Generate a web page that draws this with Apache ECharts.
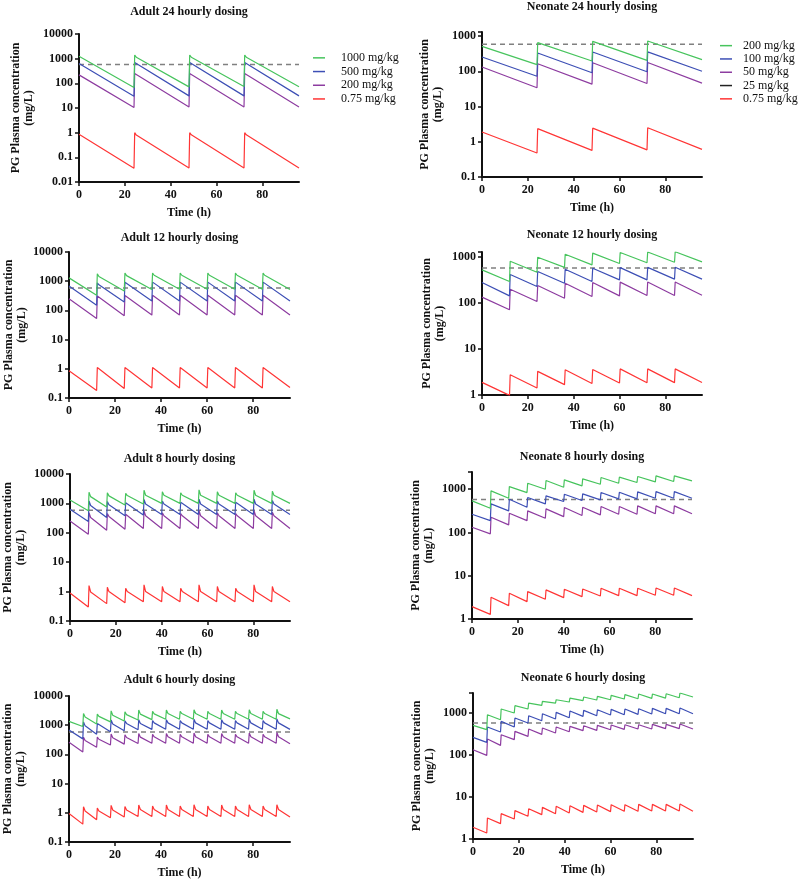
<!DOCTYPE html>
<html>
<head>
<meta charset="utf-8">
<script src="https://cdn.jsdelivr.net/npm/echarts@6/dist/echarts.min.js"></script>
<style>
  html, body { margin: 0; padding: 0; background: #fff; }
  #main { width: 800px; height: 884px; }
</style>
</head>
<body>
<div id="main"></div>
<script>
// doses in the legends
const adultDoses = ['1000 mg/kg', '500 mg/kg', '200 mg/kg', '0.75 mg/kg'];
const neonateDoses = ['200 mg/kg', '100 mg/kg', '50 mg/kg', '25 mg/kg', '0.75 mg/kg'];
const xTicks = [0, 20, 40, 60, 80];
const threshold = [580];

// peak = level after each dose (first one at t=0), spike = short top right after dose, trough = level before next dose
// order: 1000, 500, 200, 0.75 mg/kg
const adult24Peak = [[1250, 1150, 1150, 1150], [640, 590, 600, 600], [220, 210, 215, 215], [0.86, 0.8, 0.82, 0.82]];
const adult24Spike = [[1400, 1400, 1400], [700, 700, 700], [250, 250, 250], [1.0, 1.0, 1.0]];
const adult24Trough = [[68, 72, 74, 73], [30, 31, 31, 31], [10.5, 11, 11, 11], [0.036, 0.037, 0.037, 0.037]];

const adult12Peak = [
  [1300, 1450, 1550, 1600, 1600, 1600, 1600, 1600],
  [680, 750, 790, 800, 800, 800, 800, 800],
  [250, 270, 285, 290, 290, 290, 290, 290],
  [0.85, 0.95, 0.97, 0.98, 0.98, 0.98, 0.98, 0.98]];
const adult12Spike = [
  [1800, 1900, 1900, 1900, 1900, 1900, 1900],
  [880, 920, 930, 930, 930, 930, 930],
  [310, 325, 330, 330, 330, 330, 330],
  [1.1, 1.1, 1.1, 1.1, 1.1, 1.1, 1.1]];
const adult12Trough = [
  [330, 460, 520, 530, 530, 530, 530, 520],
  [150, 195, 210, 210, 210, 210, 210, 210],
  [53, 66, 69, 70, 70, 70, 70, 70],
  [0.18, 0.21, 0.22, 0.22, 0.22, 0.22, 0.22, 0.23]];

const adult8Peak = [
  [1300, 1700, 1800, 1850, 1900, 1900, 1900, 1900, 1900, 1900, 1900, 1900],
  [630, 850, 900, 930, 950, 950, 950, 950, 950, 950, 950, 950],
  [250, 330, 360, 370, 380, 380, 380, 380, 380, 380, 380, 380],
  [0.9, 0.97, 1.0, 1.0, 1.0, 1.0, 1.0, 1.0, 1.0, 1.0, 1.0, 1.0]];
const adult8Spike = [
  [2400, 2300, 2200, 2800, 2500, 2300, 2900, 2500, 2300, 2800, 2600],
  [1200, 1150, 1050, 1350, 1200, 1100, 1400, 1200, 1100, 1400, 1250],
  [480, 450, 430, 550, 480, 450, 570, 480, 450, 570, 500],
  [1.6, 1.4, 1.3, 1.7, 1.5, 1.3, 1.7, 1.5, 1.3, 1.7, 1.5]];
const adult8Trough = [
  [560, 750, 880, 950, 1000, 1000, 1000, 1000, 1000, 1000, 1000, 1000],
  [240, 330, 380, 400, 420, 420, 420, 420, 420, 420, 420, 420],
  [90, 123, 133, 140, 140, 140, 140, 140, 140, 140, 140, 140],
  [0.30, 0.39, 0.42, 0.45, 0.45, 0.45, 0.45, 0.45, 0.45, 0.45, 0.45, 0.45]];

const adult6Peak = [
  [1350, 1900, 2000, 2200, 2300, 2400, 2450, 2500, 2500, 2500, 2500, 2500, 2500, 2500, 2500, 2500],
  [680, 950, 1000, 1100, 1150, 1150, 1200, 1200, 1200, 1200, 1200, 1200, 1200, 1200, 1200, 1200],
  [260, 300, 330, 370, 380, 390, 400, 400, 400, 400, 400, 400, 400, 400, 400, 400],
  [0.95, 1.15, 1.15, 1.25, 1.25, 1.3, 1.3, 1.3, 1.3, 1.3, 1.3, 1.3, 1.3, 1.3, 1.3, 1.3]];
const adult6Spike = [
  [2500, 2400, 3100, 2900, 3300, 3000, 3300, 3000, 3400, 3000, 3300, 3000, 3400, 3000, 3500],
  [1300, 1150, 1500, 1400, 1550, 1450, 1550, 1450, 1600, 1450, 1550, 1450, 1600, 1450, 1650],
  [390, 390, 500, 470, 520, 490, 520, 490, 540, 490, 520, 490, 540, 490, 560],
  [1.6, 1.45, 1.8, 1.65, 1.85, 1.7, 1.85, 1.7, 1.9, 1.7, 1.85, 1.7, 1.9, 1.7, 1.9]];
const adult6Trough = [
  [900, 1100, 1300, 1400, 1500, 1550, 1600, 1600, 1600, 1600, 1600, 1600, 1600, 1600, 1600, 1650],
  [340, 490, 600, 650, 700, 720, 730, 730, 730, 730, 730, 730, 730, 730, 730, 720],
  [120, 175, 210, 225, 235, 240, 240, 240, 240, 240, 240, 240, 240, 240, 240, 230],
  [0.41, 0.58, 0.68, 0.72, 0.75, 0.75, 0.75, 0.75, 0.75, 0.75, 0.75, 0.75, 0.75, 0.75, 0.75, 0.72]];

// order: 200, 100, 50, 25 (not drawn), 0.75 mg/kg
const neonate24Peak = [[510, 647, 706, 722], [254, 330, 352, 355], [132, 164, 175, 177], null, [1.89, 2.35, 2.43, 2.5]];
const neonate24Trough = [[154, 195, 204, 213], [72, 91, 97, 100], [34, 43, 45, 46], null, [0.48, 0.57, 0.59, 0.61]];

const neonate12Peak = [
  [530, 820, 1000, 1160, 1230, 1270, 1300, 1320],
  [281, 420, 488, 548, 576, 595, 600, 606],
  [135, 201, 242, 272, 282, 287, 288, 288],
  null,
  [1.88, 2.77, 3.27, 3.56, 3.6, 3.7, 3.7, 3.7]];
const neonate12Trough = [
  [296, 470, 600, 680, 730, 760, 780, 790],
  [144, 230, 272, 296, 321, 321, 333, 333],
  [72, 109, 128, 140, 144, 147, 147, 149],
  null,
  [0.98, 1.42, 1.68, 1.78, 1.82, 1.84, 1.86, 1.87]];

const neonate8Peak = [
  [537, 915, 1152, 1377, 1587, 1644, 1734, 1862, 1896, 1965, 2033, 2033],
  [264, 458, 587, 642, 701, 766, 780, 837, 852, 868, 880, 880],
  [132, 225, 279, 316, 351, 377, 384, 397, 400, 412, 412, 412],
  null,
  [1.93, 3.18, 3.93, 4.29, 4.70, 4.87, 4.95, 5.13, 5.13, 5.13, 5.22, 5.22]];
const neonate8Trough = [
  [363, 619, 837, 1000, 1112, 1194, 1305, 1377, 1426, 1478, 1505, 1560],
  [188, 316, 383, 458, 519, 547, 567, 598, 598, 619, 619, 619],
  [93, 150, 188, 213, 233, 246, 255, 264, 264, 270, 270, 270],
  null,
  [1.28, 2.04, 2.52, 2.86, 3.12, 3.29, 3.41, 3.47, 3.47, 3.53, 3.53, 3.47]];

const neonate6Peak = [
  [508, 913, 1245, 1496, 1730, 1896, 2075, 2274, 2404, 2493, 2636, 2734, 2834, 2834, 2884, 2992],
  [263, 464, 634, 760, 864, 964, 1037, 1116, 1157, 1200, 1222, 1245, 1268, 1291, 1291, 1315],
  [134, 240, 305, 366, 416, 440, 464, 482, 499, 508, 518, 527, 527, 537, 537, 547],
  null,
  [1.9, 3.16, 4.01, 4.73, 5.27, 5.67, 6.0, 6.2, 6.33, 6.45, 6.57, 6.57, 6.69, 6.69, 6.69, 6.81]];
const neonate6Trough = [
  [401, 694, 1000, 1245, 1524, 1730, 1828, 1967, 2042, 2075, 2154, 2193, 2234, 2274, 2317, 2404],
  [200, 353, 464, 578, 657, 719, 774, 833, 864, 896, 913, 929, 946, 964, 964, 964],
  [98, 170, 232, 278, 310, 334, 359, 380, 387, 401, 408, 416, 416, 424, 424, 416],
  null,
  [1.39, 2.32, 2.99, 3.47, 3.80, 4.01, 4.16, 4.31, 4.39, 4.48, 4.56, 4.56, 4.64, 4.64, 4.64, 4.56]];

const adultColors = ['#47c45d', '#3d4fb5', '#8d3ca0', '#ff3535'];
const neonateColors = ['#47c45d', '#3d4fb5', '#8d3ca0', '#222222', '#ff3535'];
const FONT = 'Liberation Serif';

const panels = [
  { title: 'Adult 24 hourly dosing', kind: 'A', tau: 24, peak: adult24Peak, spike: adult24Spike, trough: adult24Trough,
    min: 0.01, max: 10000, grid: { left: 79, top: 34, width: 220, height: 148 }, titleY: 12, nameGap: 44 },
  { title: 'Neonate 24 hourly dosing', kind: 'N', tau: 24, peak: neonate24Peak, trough: neonate24Trough,
    min: 0.1, max: 1300, grid: { left: 482, top: 32, width: 220, height: 145 }, titleY: 7, nameGap: 38 },
  { title: 'Adult 12 hourly dosing', kind: 'A', tau: 12, peak: adult12Peak, spike: adult12Spike, trough: adult12Trough,
    min: 0.1, max: 10000, grid: { left: 69, top: 252, width: 221, height: 146 }, titleY: 238, nameGap: 41 },
  { title: 'Neonate 12 hourly dosing', kind: 'N', tau: 12, peak: neonate12Peak, trough: neonate12Trough,
    min: 1, max: 1300, grid: { left: 482, top: 252, width: 220, height: 143 }, titleY: 235, nameGap: 36 },
  { title: 'Adult 8 hourly dosing', kind: 'A', tau: 8, peak: adult8Peak, spike: adult8Spike, trough: adult8Trough,
    min: 0.1, max: 10000, grid: { left: 69, top: 474, width: 221, height: 147 }, titleY: 459, nameGap: 43 },
  { title: 'Neonate 8 hourly dosing', kind: 'N', tau: 8, peak: neonate8Peak, trough: neonate8Trough,
    min: 1, max: 2500, grid: { left: 472, top: 472, width: 220, height: 147 }, titleY: 457, nameGap: 37 },
  { title: 'Adult 6 hourly dosing', kind: 'A', tau: 6, peak: adult6Peak, spike: adult6Spike, trough: adult6Trough,
    min: 0.1, max: 10000, grid: { left: 69, top: 696, width: 221, height: 146 }, titleY: 680, nameGap: 42 },
  { title: 'Neonate 6 hourly dosing', kind: 'N', tau: 6, peak: neonate6Peak, trough: neonate6Trough,
    min: 1, max: 3000, grid: { left: 473, top: 693, width: 220, height: 146 }, titleY: 678, nameGap: 37 }
];

// sawtooth through peak/trough values (straight on log axis)
function buildCurve(tau, peaks, troughs, spikes) {
  const pts = [];
  for (let i = 0; i < peaks.length; i++) {
    const t0 = i * tau;
    if (i === 0) {
      pts.push([0, peaks[0]]);
    } else if (spikes) {
      pts.push([t0 + 0.3, spikes[i - 1]]);
      pts.push([t0 + 1, peaks[i]]);
    } else {
      pts.push([t0 + 0.3, peaks[i]]);
    }
    pts.push([t0 + tau, troughs[i]]);
  }
  return pts;
}

const axisLineStyle = { color: '#111', width: 2 };
const grids = [], xAxes = [], yAxes = [], series = [], graphics = [];

panels.forEach((p, k) => {
  grids.push(p.grid);
  xAxes.push({
    type: 'value', gridIndex: k, min: 0, max: 96,
    name: 'Time (h)', nameLocation: 'middle', nameGap: 25,
    nameTextStyle: { fontFamily: FONT, fontWeight: 'bold', fontSize: 12, color: '#111' },
    axisLine: { show: true, lineStyle: axisLineStyle },
    axisTick: { show: true, length: 4, lineStyle: { color: '#111', width: 1.5 }, customValues: xTicks },
    axisLabel: { customValues: xTicks, margin: 7, fontFamily: FONT, fontWeight: 'bold', fontSize: 12, color: '#111' },
    splitLine: { show: false }
  });
  yAxes.push({
    type: 'log', logBase: 10, gridIndex: k, min: p.min, max: p.max,
    name: 'PG Plasma concentration\n(mg/L)', nameLocation: 'middle', nameGap: p.nameGap,
    nameTextStyle: { fontFamily: FONT, fontWeight: 'bold', fontSize: 12, lineHeight: 13, color: '#111' },
    axisLine: { show: true, lineStyle: axisLineStyle },
    axisTick: { show: true, length: 4, lineStyle: { color: '#111', width: 1.5 } },
    axisLabel: {
      margin: 6, fontFamily: FONT, fontWeight: 'bold', fontSize: 12, color: '#111',
      formatter: v => {
        const e = Math.log10(v);
        return Math.abs(e - Math.round(e)) < 1e-6 ? String(+v.toPrecision(6)) : '';
      }
    },
    minorTick: { show: false },
    splitLine: { show: false }
  });
  graphics.push({
    type: 'text', x: p.grid.left + p.grid.width / 2, y: p.titleY,
    style: { text: p.title, align: 'center', verticalAlign: 'middle', fill: '#111',
             font: 'bold 12px "Liberation Serif"' }
  });

  const names = p.kind === 'A' ? adultDoses : neonateDoses;
  const colors = p.kind === 'A' ? adultColors : neonateColors;
  names.forEach((n, j) => {
    const data = p.peak[j] ? buildCurve(p.tau, p.peak[j], p.trough[j], p.spike ? p.spike[j] : null) : [];
    series.push({
      name: p.kind + '|' + n, type: 'line', xAxisIndex: k, yAxisIndex: k,
      data: data, showSymbol: false, symbol: 'none', silent: true, z: 3 + (names.length - j),
      lineStyle: { color: colors[j], width: 1.2 }, itemStyle: { color: colors[j] }
    });
  });
  // dashed threshold line
  series.push({
    name: 'threshold', type: 'line', xAxisIndex: k, yAxisIndex: k, symbol: 'none', silent: true, z: 2,
    data: [[0, threshold[0]], [96, threshold[0]]],
    lineStyle: { color: '#808080', width: 1.5, type: [5, 4] }
  });
});

const legendBase = {
  orient: 'vertical', icon: 'rect', itemWidth: 12, itemHeight: 1.5, itemGap: 0, padding: 0,
  selectedMode: false, formatter: n => n.slice(2)
};

const option = {
  animation: false,
  backgroundColor: '#fff',
  grid: grids,
  xAxis: xAxes,
  yAxis: yAxes,
  legend: [
    Object.assign({}, legendBase, {
      data: adultDoses.map(n => 'A|' + n), left: 313, top: 51,
      textStyle: { fontFamily: FONT, fontSize: 12, color: '#111', lineHeight: 13.7, padding: [0, 0, 0, 11] }
    }),
    Object.assign({}, legendBase, {
      data: neonateDoses.map(n => 'N|' + n), left: 720, top: 39,
      textStyle: { fontFamily: FONT, fontSize: 12, color: '#111', lineHeight: 13.3, padding: [0, 0, 0, 6] }
    })
  ],
  graphic: graphics,
  series: series
};

const myChart = echarts.init(document.getElementById('main'), null, { renderer: 'canvas' });
myChart.setOption(option);
window.onresize = function () { myChart.resize(); };
</script>
</body>
</html>
